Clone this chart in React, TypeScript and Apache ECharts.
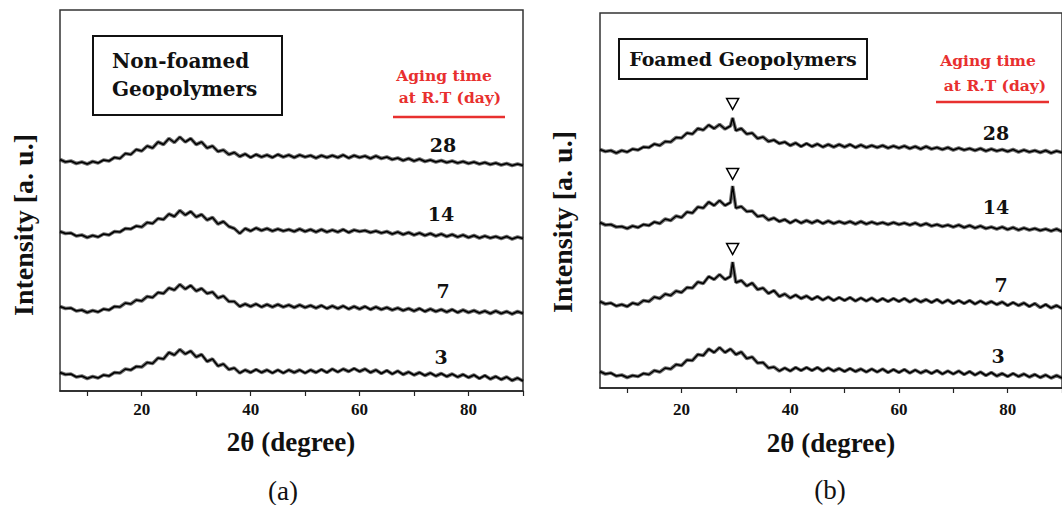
import React, { useEffect, useRef } from "react";
import * as echarts from "echarts";

// 2θ sampling (degree)
const anglesA = [
  5, 6, 7, 8, 9, 10, 11, 12, 13, 14,
  15, 16, 17, 18, 19, 20, 21, 22, 23, 24,
  25, 26, 27, 28, 29, 30, 31, 32, 33, 34,
  35, 36, 37, 38, 39, 40, 41, 42, 43, 44,
  45, 46, 47, 48, 49, 50, 51, 52, 53, 54,
  55, 56, 57, 58, 59, 60, 61, 62, 63, 64,
  65, 66, 67, 68, 69, 70, 71, 72, 73, 74,
  75, 76, 77, 78, 79, 80, 81, 82, 83, 84,
  85, 86, 87, 88, 89, 90,
];
const anglesB = [
  5, 6, 7, 8, 9, 10, 11, 12, 13, 14,
  15, 16, 17, 18, 19, 20, 21, 22, 23, 24,
  25, 26, 27, 28, 29, 29.4,
  30, 31, 32, 33, 34, 35, 36, 37, 38, 39,
  40, 41, 42, 43, 44, 45, 46, 47, 48, 49,
  50, 51, 52, 53, 54, 55, 56, 57, 58, 59,
  60, 61, 62, 63, 64, 65, 66, 67, 68, 69,
  70, 71, 72, 73, 74, 75, 76, 77, 78, 79,
  80, 81, 82, 83, 84, 85, 86, 87, 88, 89,
  90,
];

// (a) Non-foamed, stacked intensity (a.u.)
const nonFoamed28 = [
  231.5, 229, 230, 227.5, 229, 227, 229.5, 228, 231, 230,
  233.5, 232.5, 237.5, 236.5, 241.5, 240, 245, 243, 249, 246.5,
  252.5, 248.5, 254, 249, 252.5, 246.5, 249, 243, 245, 239.5,
  241, 236.5, 238.5, 234.5, 237, 233.5, 236.5, 234, 236, 233.5,
  236.5, 234, 236, 233.5, 236, 234, 235.5, 233, 235.5, 233.5,
  235.5, 233.5, 236, 233, 235.5, 233.5, 235, 232.5, 235, 232.5,
  234, 231.5, 233, 230.5, 232.5, 230, 232, 229.5, 231, 229,
  230.5, 228.5, 230, 228, 229.5, 227.5, 229, 227, 228.5, 226.5,
  228, 226, 227.5, 225.5, 227, 225.5,
];
const nonFoamed14 = [
  159.5, 157.5, 158, 155, 156, 153.5, 155.5, 154, 157, 156,
  159.5, 159, 162.5, 162, 165, 164, 168.5, 167.5, 172.5, 171.5,
  177, 174.5, 180.5, 176, 179.5, 174, 176.5, 171, 173.5, 167,
  169.5, 164.5, 162.5, 157.5, 162.5, 160, 163, 160.5, 162.5, 160,
  162, 160, 161.5, 159.5, 162, 159.5, 161.5, 159, 161.5, 159,
  161, 159, 161.5, 158.5, 161, 159.5, 160.5, 158.5, 160, 158,
  159.5, 157, 159, 156.5, 158.5, 156, 158, 155.5, 157.5, 155,
  157, 154.5, 156.5, 154, 156, 153.5, 155.5, 153, 155, 153,
  154.5, 152.5, 154.5, 152, 154, 152.5,
];
const nonFoamed7 = [
  84.5, 82.5, 83, 80, 81, 78.5, 80.5, 79, 82, 81,
  84.5, 84, 88, 87, 91, 90, 94.5, 93.5, 98.5, 97.5,
  103, 101, 106.5, 102, 105.5, 100, 102.5, 97.5, 99, 93,
  95, 89.5, 89.5, 84.5, 87, 84.5, 87, 84, 86.5, 84,
  86.5, 84, 86, 83.5, 86, 83.5, 85.5, 83, 85.5, 82.5,
  85, 82.5, 85, 82, 84.5, 82, 84.5, 81.5, 84, 81.5,
  83.5, 81, 83, 80.5, 82.5, 80, 82.5, 79.5, 82, 79.5,
  81.5, 79, 81.5, 78.5, 81, 78.5, 80.5, 78, 80, 77.5,
  80, 77.5, 79.5, 77, 79.5, 77.5,
];
const nonFoamed3 = [
  18.5, 16.5, 17, 14, 15, 12.5, 14.5, 13, 16, 15,
  18.5, 18, 22, 21, 24.5, 24, 28.5, 27.5, 33, 32,
  38.5, 36, 41.5, 37, 40, 34, 36.5, 29.5, 32, 25,
  27, 21.5, 23, 18, 21, 18.5, 21.5, 18.5, 21, 18,
  21, 18, 21, 18.5, 21, 18, 21, 18.5, 21.5, 18.5,
  22, 19, 22, 19.5, 22.5, 19.5, 22, 18.5, 21, 17.5,
  20.5, 17, 20, 16.5, 19, 16, 18.5, 15.5, 18, 15,
  17.5, 14.5, 17, 14, 16.5, 13.5, 16, 12.5, 15.5, 12,
  14.5, 11.5, 14, 10.5, 13, 10,
];

// (b) Foamed, stacked intensity (a.u.)
const foamed28 = [
  238.5, 236.5, 237.5, 235, 237.5, 236, 239, 238, 241, 240.5,
  244, 242.5, 246.5, 246, 250.5, 250, 255, 254, 259.5, 258,
  263, 259.5, 263.5, 259, 262, 270,
  257.5, 259.5, 254, 255, 249.5, 251, 246.5, 248, 244.5, 246,
  242.5, 245, 241.5, 244.5, 241.5, 244, 241, 243.5, 241, 243.5,
  241, 243.5, 240.5, 243, 240.5, 242.5, 240.5, 242.5, 240, 242,
  240, 242, 239.5, 241.5, 239, 241.5, 239, 240.5, 238.5, 240.5,
  238, 240, 238, 239.5, 237.5, 239.5, 237, 239, 237, 238.5,
  236.5, 238.5, 236, 238, 236, 237.5, 235.5, 237.5, 235, 237,
  235.5,
];
const foamed14 = [
  165.5, 163, 163.5, 161, 161.5, 159.5, 162, 160.5, 163.5, 162.5,
  166, 164.5, 169, 167.5, 172, 170.5, 176, 175, 181, 180,
  186, 182.5, 187.5, 182.5, 185.5, 202,
  180, 181.5, 176.5, 177, 171.5, 172.5, 168, 170, 166.5, 168.5,
  165, 168, 165, 167.5, 165, 167.5, 164.5, 167, 164.5, 166.5,
  164.5, 166.5, 164, 166.5, 164, 166, 164, 165.5, 163.5, 165.5,
  163.5, 165, 163, 165, 162.5, 164.5, 162, 163.5, 161.5, 163,
  161, 163, 160.5, 162.5, 160, 162, 159.5, 161, 159, 161,
  158.5, 160.5, 158, 160, 158, 159.5, 157.5, 159, 157, 159,
  156.5,
];
const foamed7 = [
  86.5, 84, 85, 82, 83.5, 81.5, 85, 83.5, 87.5, 86.5,
  91, 89.5, 94, 92.5, 97, 95.5, 100.5, 100, 106, 104.5,
  111.5, 108.5, 113.5, 108.5, 111.5, 126,
  105.5, 107.5, 102, 105, 98.5, 100, 94.5, 97.5, 91.5, 94,
  90, 93, 89.5, 92, 88.5, 91.5, 88, 91, 87.5, 90.5,
  87.5, 90.5, 87, 90, 87, 90, 86.5, 89.5, 86.5, 89.5,
  86.5, 89.5, 86, 89, 86, 88.5, 85.5, 88.5, 85, 88,
  84.5, 87.5, 84.5, 87.5, 84, 87, 84, 86.5, 83.5, 86,
  82.5, 85.5, 82.5, 85, 81.5, 84.5, 80.5, 83.5, 80, 82.5,
  79.5,
];
const foamed3 = [
  16.5, 14, 15, 12, 13, 10.5, 12.5, 11.5, 14.5, 13.5,
  17.5, 16, 20, 19, 23.5, 22.5, 28, 27.5, 33.5, 32.5,
  39, 35.5, 40.5, 35.5, 39, 37,
  33.5, 36, 29.5, 31, 25, 25.5, 20, 21, 17, 20,
  17, 20.5, 17.5, 20.5, 17.5, 20.5, 17, 20, 17, 19.5,
  16.5, 19.5, 16.5, 19, 16, 19, 16, 19, 15.5, 18.5,
  15.5, 18.5, 15, 18, 15, 17.5, 14.5, 17.5, 14, 17,
  14, 17, 13.5, 16.5, 13, 16, 12.5, 15.5, 12, 14.5,
  11.5, 14.5, 11.5, 14, 11, 13.5, 10.5, 13, 10, 12.5,
  10,
];

const agingDays = ["28", "14", "7", "3"];
const xTickValues = [10, 20, 30, 40, 50, 60, 70, 80, 90];
const xLabelValues = [20, 40, 60, 80];
const peakAngle = 29.4;
const peakValues = [270, 202, 126];

const SERIF = "Liberation Serif";
const CAMB = "DejaVu Serif";
const RED = "#e8302f";

function pairs(xs: number[], ys: number[]) {
  return xs.map((x, i) => [x, ys[i]]);
}

export default function App() {
  const ref = useRef<HTMLDivElement>(null);
  useEffect(() => {
    if (!ref.current) return;
    const chart = echarts.init(ref.current, null, { renderer: "svg" });

    const xAxisBase = (gridIndex: number, margin: number) => ({
      type: "value",
      gridIndex,
      min: 5,
      max: 90,
      axisLine: { show: true, lineStyle: { color: "#222", width: 1.5 } },
      axisTick: {
        show: true,
        customValues: xTickValues,
        length: 5,
        lineStyle: { color: "#222", width: 1.2 },
      },
      axisLabel: {
        show: true,
        customValues: xLabelValues,
        margin,
        fontFamily: SERIF,
        fontWeight: "bold",
        fontSize: 17,
        color: "#111",
      },
      splitLine: { show: false },
    });
    const yAxisBase = (gridIndex: number, max: number) => ({
      type: "value",
      gridIndex,
      min: 0,
      max,
      axisLine: { show: false },
      axisTick: { show: false },
      axisLabel: { show: false },
      splitLine: { show: false },
    });

    // each pattern: a dark noise band plus the trace itself
    const lineSeries = (xs: number[], ys: number[], idx: number, extra: any = {}) => [
      {
        type: "line",
        xAxisIndex: idx,
        yAxisIndex: idx,
        data: pairs(xs, ys),
        symbol: "none",
        showSymbol: false,
        silent: true,
        lineStyle: { color: "#111", width: 3.6, opacity: 0.6 },
        z: 2,
      },
      {
        type: "line",
        xAxisIndex: idx,
        yAxisIndex: idx,
        data: pairs(xs, ys),
        symbol: "none",
        showSymbol: false,
        lineStyle: { color: "#000", width: 1.5 },
        z: 3,
        ...extra,
      },
    ];

    const tri = (value: number, off: number) => ({
      coord: [peakAngle, value],
      symbolOffset: [0, off],
    });
    const triStyle = {
      symbol: "path://M0,0L12,0L6,11Z",
      symbolSize: [12, 11],
      itemStyle: { color: "#ffffff", borderColor: "#000", borderWidth: 1.5 },
      label: { show: false },
    };

    const texts: any[] = [];
    const addText = (x: number, y: number, text: string, style: any, rotation = 0) =>
      texts.push({
        type: "text",
        x,
        y,
        rotation,
        style: { text, textAlign: "center", textVerticalAlign: "middle", ...style },
        z: 10,
      });

    const titleStyle = { fontFamily: SERIF, fontWeight: "bold", fontSize: 27, fill: "#111" };
    const numStyle = { fontFamily: CAMB, fontWeight: "bold", fontSize: 19, fill: "#111" };
    const redStyle = { fontFamily: CAMB, fontWeight: "bold", fontSize: 15.5, fill: RED };
    const capStyle = { fontFamily: SERIF, fontSize: 27, fill: "#111" };

    // panel (a)
    addText(291, 442, "2θ (degree)", titleStyle);
    addText(23, 225, "Intensity [a. u.]", { ...titleStyle, fontSize: 28 }, Math.PI / 2);
    addText(283, 491, "(a)", capStyle);
    addText(444, 75, "Aging time", redStyle);
    addText(450, 97, "at R.T (day)", redStyle);
    addText(443, 145, agingDays[0], numStyle);
    addText(441, 214, agingDays[1], numStyle);
    addText(443, 291, agingDays[2], numStyle);
    addText(441, 357, agingDays[3], numStyle);
    // panel (b)
    addText(831, 443, "2θ (degree)", titleStyle);
    addText(562, 222, "Intensity [a. u.]", { ...titleStyle, fontSize: 28 }, Math.PI / 2);
    addText(830, 490, "(b)", capStyle);
    addText(988, 60, "Aging time", redStyle);
    addText(995, 85, "at R.T (day)", redStyle);
    addText(996, 133, agingDays[0], numStyle);
    addText(996, 207, agingDays[1], numStyle);
    addText(1001, 285, agingDays[2], numStyle);
    addText(998, 356, agingDays[3], numStyle);

    const graphics: any[] = [
      {
        type: "rect",
        shape: { x: 93, y: 36, width: 189, height: 79 },
        style: { fill: "#fff", stroke: "#111", lineWidth: 2 },
        z: 9,
      },
      {
        type: "text",
        x: 112,
        y: 61,
        style: { text: "Non-foamed", fontFamily: CAMB, fontWeight: "bold", fontSize: 20, fill: "#111", textVerticalAlign: "middle" },
        z: 10,
      },
      {
        type: "text",
        x: 112,
        y: 89,
        style: { text: "Geopolymers", fontFamily: CAMB, fontWeight: "bold", fontSize: 20, fill: "#111", textVerticalAlign: "middle" },
        z: 10,
      },
      {
        type: "rect",
        shape: { x: 619, y: 39, width: 248, height: 40 },
        style: { fill: "#fff", stroke: "#111", lineWidth: 2 },
        z: 9,
      },
      {
        type: "text",
        x: 743,
        y: 59,
        style: { text: "Foamed Geopolymers", fontFamily: CAMB, fontWeight: "bold", fontSize: 19, fill: "#111", textAlign: "center", textVerticalAlign: "middle" },
        z: 10,
      },
      { type: "line", shape: { x1: 393, y1: 117, x2: 505, y2: 117 }, style: { stroke: RED, lineWidth: 2.5 }, z: 10 },
      { type: "line", shape: { x1: 936, y1: 102, x2: 1049, y2: 102 }, style: { stroke: RED, lineWidth: 2.5 }, z: 10 },
      ...texts,
    ];

    chart.setOption({
      animation: false,
      backgroundColor: "#ffffff",
      grid: [
        { left: 60, top: 10, width: 463, height: 381, show: true, borderColor: "#333", borderWidth: 1.5, backgroundColor: "transparent" },
        { left: 600, top: 13, width: 467.5, height: 375, show: true, borderColor: "#333", borderWidth: 1.5, backgroundColor: "transparent" },
      ],
      xAxis: [xAxisBase(0, 10), xAxisBase(1, 13)],
      yAxis: [yAxisBase(0, 381), yAxisBase(1, 375)],
      series: [
        ...lineSeries(anglesA, nonFoamed28, 0),
        ...lineSeries(anglesA, nonFoamed14, 0),
        ...lineSeries(anglesA, nonFoamed7, 0),
        ...lineSeries(anglesA, nonFoamed3, 0),
        ...lineSeries(anglesB, foamed28, 1, {
          markPoint: { ...triStyle, data: [tri(peakValues[0], -14)] },
        }),
        ...lineSeries(anglesB, foamed14, 1, {
          markPoint: { ...triStyle, data: [tri(peakValues[1], -12)] },
        }),
        ...lineSeries(anglesB, foamed7, 1, {
          markPoint: { ...triStyle, data: [tri(peakValues[2], -13)] },
        }),
        ...lineSeries(anglesB, foamed3, 1),
      ],
      graphic: graphics,
    });
    return () => chart.dispose();
  }, []);
  return (
    <div
      ref={ref}
      style={{ position: "fixed", left: 0, top: 0, width: 1062, height: 505, background: "#fff" }}
    />
  );
}
